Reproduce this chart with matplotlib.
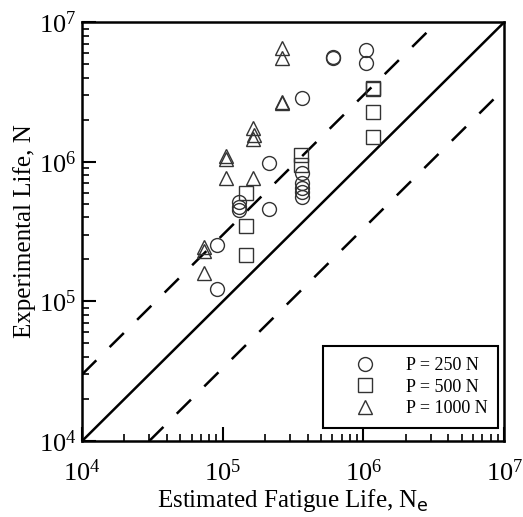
import numpy as np
import matplotlib
matplotlib.use("Agg")
import matplotlib.pyplot as plt
from matplotlib.ticker import LogLocator, NullFormatter

matplotlib.rcParams['font.family'] = 'Liberation Serif'
matplotlib.rcParams['mathtext.fontset'] = 'custom'
matplotlib.rcParams['mathtext.rm'] = 'Liberation Serif'
matplotlib.rcParams['mathtext.it'] = 'Liberation Serif'
matplotlib.rcParams['mathtext.sf'] = 'DejaVu Sans'

# P = 250 N
ne_250 = [6.05e5, 6.1e5, 1.05e6, 1.05e6, 3.68e5, 2.13e5, 3.68e5, 3.68e5, 3.68e5, 3.68e5,
          3.68e5, 2.13e5, 1.31e5, 1.31e5, 1.31e5, 9.06e4, 9.06e4]
n_250 = [5.65e6, 5.55e6, 6.3e6, 5.1e6, 2.85e6, 9.75e5, 8.3e5, 7.1e5, 6.45e5, 6.1e5,
         5.6e5, 4.6e5, 5.18e5, 4.76e5, 4.5e5, 2.54e5, 1.22e5]
# P = 500 N
ne_500 = [1.16e6, 1.17e6, 1.16e6, 1.16e6, 3.58e5, 3.58e5, 1.46e5, 1.46e5, 1.46e5]
n_500 = [3.35e6, 3.4e6, 2.28e6, 1.51e6, 1.12e6, 9.5e5, 5.94e5, 3.48e5, 2.15e5]
# P = 1000 N
ne_1000 = [2.62e5, 2.62e5, 2.62e5, 2.64e5, 1.65e5, 1.65e5, 1.66e5, 1.05e5, 1.06e5,
           1.05e5, 1.65e5, 7.3e4, 7.4e4, 7.3e4]
n_1000 = [6.49e6, 5.5e6, 2.62e6, 2.7e6, 1.75e6, 1.45e6, 1.55e6, 1.1e6, 1.05e6,
          7.6e5, 7.6e5, 2.3e5, 2.45e5, 1.59e5]

n_min, n_max = 1e4, 1e7
scatter_factor = 3

fig = plt.figure(figsize=(5.23, 5.17), dpi=100)
ax = fig.add_axes([0.157, 0.147, 0.807, 0.810])

# N = Ne and the factor-of-3 band
ax.plot([n_min, n_max], [n_min, n_max], color="black", lw=1.8)
ax.plot([n_min, n_max / scatter_factor], [n_min * scatter_factor, n_max],
        color="black", lw=1.8, dashes=(8, 7.5))
ax.plot([n_min * scatter_factor, n_max], [n_min, n_max / scatter_factor],
        color="black", lw=1.8, dashes=(8, 7.5))

mk = dict(linestyle="none", markerfacecolor="none", markeredgecolor="#333333",
          markeredgewidth=1.0)
ax.plot(ne_250, n_250, marker="o", markersize=10, label="P = 250 N", **mk)
ax.plot(ne_500, n_500, marker="s", markersize=9.5, label="P = 500 N", **mk)
ax.plot(ne_1000, n_1000, marker="^", markersize=10, label="P = 1000 N", **mk)

ax.set_xscale("log")
ax.set_yscale("log")
ax.set_xlim(n_min, n_max)
ax.set_ylim(n_min, n_max)

for axis in (ax.xaxis, ax.yaxis):
    axis.set_major_locator(LogLocator(base=10, numticks=10))
    axis.set_minor_locator(LogLocator(base=10, subs=np.arange(2, 10), numticks=10))
    axis.set_minor_formatter(NullFormatter())
ax.tick_params(which="major", direction="in", length=10, width=1.5,
               labelsize=19, top=False, right=False)
ax.tick_params(axis="x", which="major", pad=13)
ax.tick_params(axis="y", which="major", pad=4)
ax.tick_params(which="minor", direction="in", length=5, width=1.2,
               top=False, right=False)
for s in ax.spines.values():
    s.set_linewidth(1.8)

ax.set_xlabel(r"Estimated Fatigue Life, N$\mathsf{_e}$", fontsize=18, labelpad=1)
ax.set_ylabel("Experimental Life, N", fontsize=18, labelpad=2)

leg = ax.legend(loc="lower right", bbox_to_anchor=(0.986, 0.031), borderaxespad=0,
                fontsize=13, frameon=True, fancybox=False, edgecolor="black",
                framealpha=1, borderpad=0.6, handletextpad=0.56,
                labelspacing=0.25, handlelength=3.4)
leg.get_frame().set_linewidth(1.5)

plt.savefig("out.png", dpi=100)
